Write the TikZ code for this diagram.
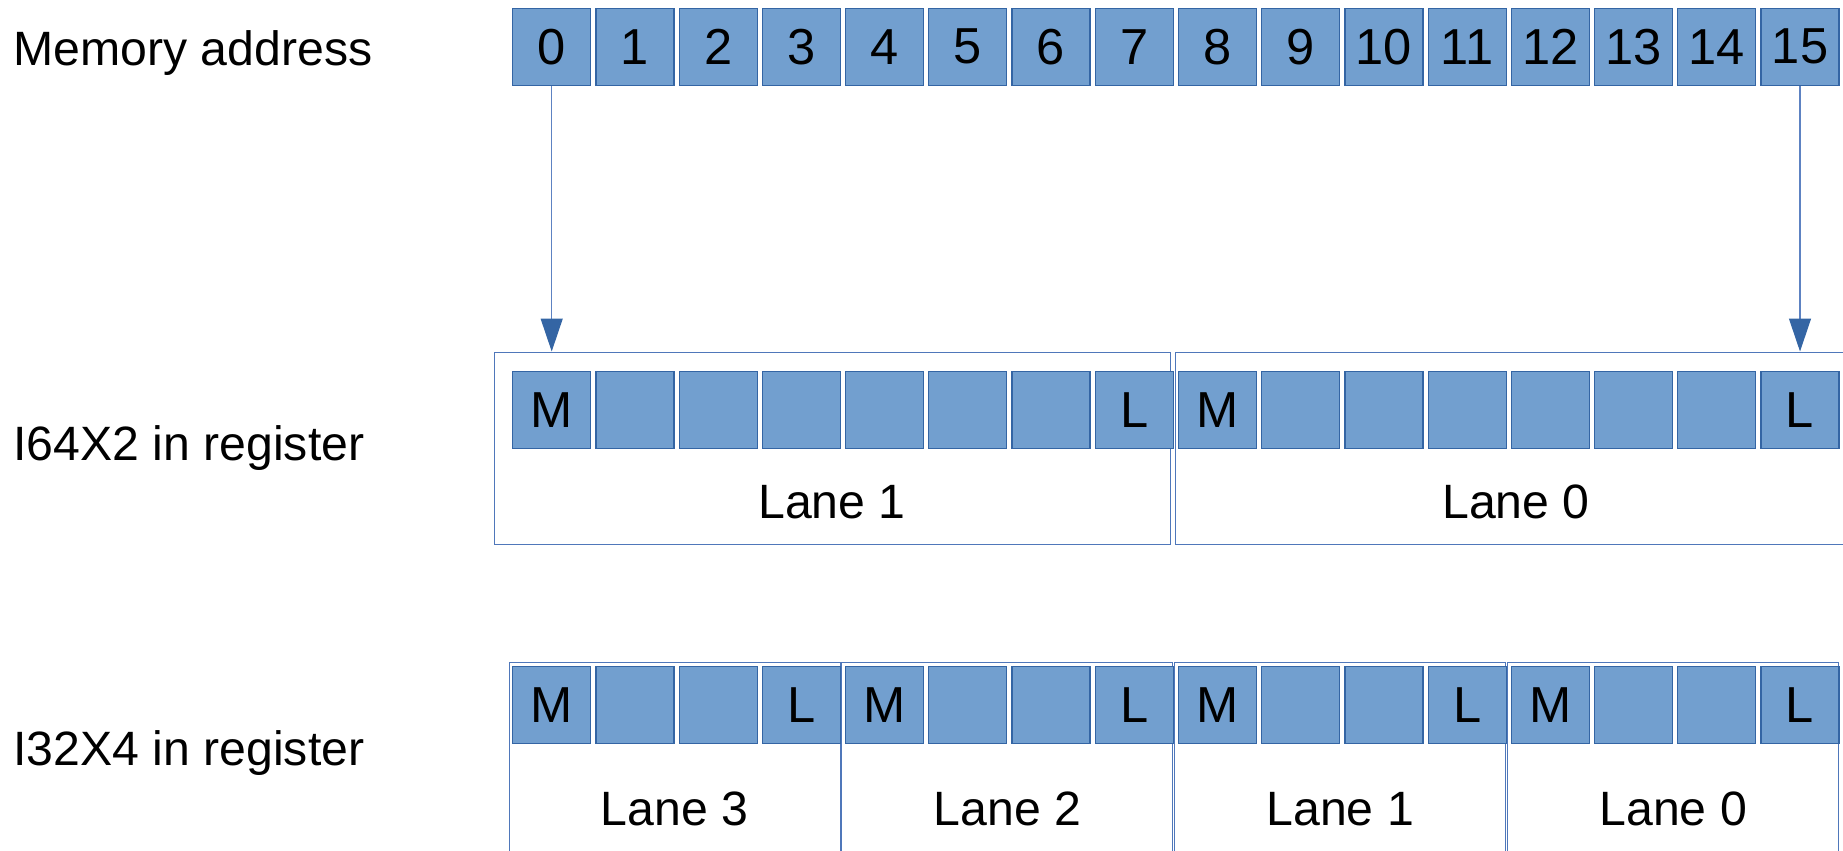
\documentclass[tikz,border=0pt]{standalone}
\usepackage{fontspec}
\setmainfont{Liberation Sans}
\usepackage{xcolor}
\usepackage{tikz}
\usetikzlibrary{arrows.meta,positioning,calc}
\definecolor{cellfill}{HTML}{729FCF}
\definecolor{cellline}{HTML}{3465A4}
\definecolor{laneline}{HTML}{4F77BA}
\definecolor{arrowline}{HTML}{5D82C2}
\tikzset{
  cell/.style={draw=cellline,fill=cellfill,line width=0.6pt,
    minimum width=39pt,minimum height=38.5pt,inner sep=0pt,
    font=\fontsize{25.3}{30}\selectfont},
  lane/.style={draw=laneline,line width=0.5pt,inner sep=0pt},
  rowtext/.style={anchor=base west,inner sep=0pt},
  lanetext/.style={anchor=base,inner sep=0pt},
  load/.style={draw=arrowline,line width=0.6pt,
    -{Triangle[width=11pt,length=16.5pt,color=cellline]}}
}

\begin{document}
\begin{tikzpicture}[x=0.5pt,y=-0.5pt,font=\fontsize{24.1}{29}\selectfont]
  \useasboundingbox (0,0) rectangle (1843,851);
  % captions on the left
  \node[rowtext] (memcap) at (13,65) {Memory address};
  \node[rowtext] (widecap) at (13,460) {I64X2 in register};
  \node[rowtext] (narrowcap) at (13,765) {I32X4 in register};
  % lane frames
  \node[lane,minimum width=338pt,minimum height=96pt] (wide1) at (832,448) {};
  \node[lane,minimum width=341pt,minimum height=96pt] (wide0) at (1516,448) {};
  \node[lanetext] (widetext1) at (832,518) {Lane 1};
  \node[lanetext] (widetext0) at (1516,518) {Lane 0};
  \foreach \j in {0,...,3}{
    \pgfmathtruncatemacro\n{3-\j}
    \node[lane,minimum width=165.5pt,minimum height=109pt] (narrow\n)
      at ({674.5+332.9*\j},771) {};
    \node[lanetext] (narrowtext\n) at ({674.5+332.9*\j},825) {Lane \n};
  }
  % memory bytes
  \foreach \i in {0,...,15}
    \node[cell] (m\i) at ({551.7+83.22*\i},46.8) {\i};
  % bytes of the two 64-bit lanes
  \foreach \i in {0,...,15}{
    \pgfmathtruncatemacro\k{mod(\i,8)}
    \node[cell] (a\i) at ({551.7+83.22*\i},409.7) {\ifnum\k=0 M\fi\ifnum\k=7 L\fi};
  }
  % bytes of the four 32-bit lanes
  \foreach \i in {0,...,15}{
    \pgfmathtruncatemacro\k{mod(\i,4)}
    \node[cell] (b\i) at ({551.7+83.22*\i},704.7) {\ifnum\k=0 M\fi\ifnum\k=3 L\fi};
  }
  % loads
  \draw[load] (m0) -- (m0 |- wide1.north);
  \draw[load] (m15) -- (m15 |- wide0.north);
\end{tikzpicture}
\end{document}
